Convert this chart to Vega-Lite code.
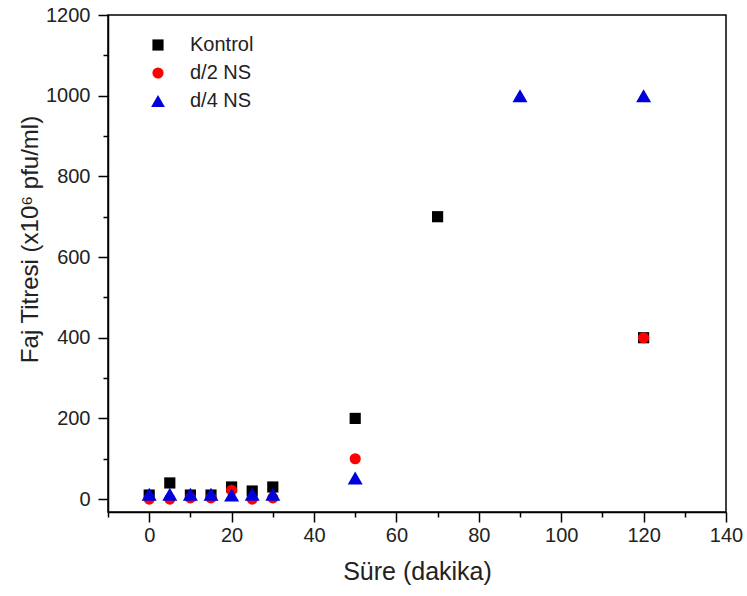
{
  "$schema": "https://vega.github.io/schema/vega-lite/v6.json",
  "autosize": "none",
  "width": 618,
  "height": 497,
  "padding": {"left": 108, "top": 15, "right": 21, "bottom": 84},
  "background": "white",
  "config": {
    "font": "Liberation Sans",
    "view": {"stroke": "black", "strokeWidth": 1.5},
    "axis": {
      "domainColor": "black", "domainWidth": 1.5,
      "tickColor": "black", "tickWidth": 1.5,
      "labelColor": "#222222", "titleColor": "#222222",
      "labelFont": "Liberation Sans", "titleFont": "Liberation Sans",
      "labelFontSize": 20, "titleFontSize": 25, "titleFontWeight": "normal",
      "grid": false
    }
  },
  "data": {
    "values": [
      {"sure": 0, "titre": 10, "grup": "Kontrol"},
      {"sure": 5, "titre": 40, "grup": "Kontrol"},
      {"sure": 10, "titre": 10, "grup": "Kontrol"},
      {"sure": 15, "titre": 10, "grup": "Kontrol"},
      {"sure": 20, "titre": 30, "grup": "Kontrol"},
      {"sure": 25, "titre": 20, "grup": "Kontrol"},
      {"sure": 30, "titre": 30, "grup": "Kontrol"},
      {"sure": 50, "titre": 200, "grup": "Kontrol"},
      {"sure": 70, "titre": 700, "grup": "Kontrol"},
      {"sure": 120, "titre": 400, "grup": "Kontrol"},
      {"sure": 0, "titre": 0, "grup": "d/2 NS"},
      {"sure": 5, "titre": 0, "grup": "d/2 NS"},
      {"sure": 10, "titre": 3, "grup": "d/2 NS"},
      {"sure": 15, "titre": 3, "grup": "d/2 NS"},
      {"sure": 20, "titre": 22, "grup": "d/2 NS"},
      {"sure": 25, "titre": 0, "grup": "d/2 NS"},
      {"sure": 30, "titre": 3, "grup": "d/2 NS"},
      {"sure": 50, "titre": 100, "grup": "d/2 NS"},
      {"sure": 120, "titre": 400, "grup": "d/2 NS"},
      {"sure": 0, "titre": 12, "grup": "d/4 NS"},
      {"sure": 5, "titre": 12, "grup": "d/4 NS"},
      {"sure": 10, "titre": 12, "grup": "d/4 NS"},
      {"sure": 15, "titre": 12, "grup": "d/4 NS"},
      {"sure": 20, "titre": 10, "grup": "d/4 NS"},
      {"sure": 25, "titre": 12, "grup": "d/4 NS"},
      {"sure": 30, "titre": 12, "grup": "d/4 NS"},
      {"sure": 50, "titre": 52, "grup": "d/4 NS"},
      {"sure": 90, "titre": 1000, "grup": "d/4 NS"},
      {"sure": 120, "titre": 1000, "grup": "d/4 NS"}
    ]
  },
  "mark": {"type": "point", "filled": true, "opacity": 1},
  "encoding": {
    "x": {
      "field": "sure", "type": "quantitative",
      "scale": {"domain": [-10, 140], "nice": false, "zero": false},
      "axis": {
        "title": "Süre (dakika)",
        "format": "d",
        "values": [-10, 0, 10, 20, 30, 40, 50, 60, 70, 80, 90, 100, 110, 120, 130, 140],
        "labelExpr": "datum.value % 20 == 0 ? datum.label : ''",
        "tickSize": {"condition": {"test": "datum.value % 20 == 0", "value": 10}, "value": 5},
        "labelPadding": 3,
        "titlePadding": 14,
        "labelFlush": false,
        "labelOverlap": false
      }
    },
    "y": {
      "field": "titre", "type": "quantitative",
      "scale": {"domain": [-32, 1200], "nice": false, "zero": false},
      "axis": {
        "title": "Faj Titresi (x10⁶ pfu/ml)",
        "format": "d",
        "titleFontSize": 24,
        "titleY": 224,
        "values": [0, 100, 200, 300, 400, 500, 600, 700, 800, 900, 1000, 1100, 1200],
        "labelExpr": "datum.value % 200 == 0 ? datum.label : ''",
        "tickSize": {"condition": {"test": "datum.value % 200 == 0", "value": 10}, "value": 5},
        "labelPadding": 8,
        "titlePadding": 3,
        "labelFlush": false,
        "labelOverlap": false
      }
    },
    "color": {
      "field": "grup", "type": "nominal",
      "scale": {"domain": ["Kontrol", "d/2 NS", "d/4 NS"], "range": ["#000000", "#ff0000", "#0000dd"]},
      "legend": {
        "title": null, "orient": "none", "legendX": 40, "legendY": 20,
        "labelFontSize": 20, "labelFont": "Liberation Sans", "labelColor": "#222222",
        "rowPadding": 8, "labelOffset": 22, "symbolOpacity": 1,
        "encode": {"symbols": {"update": {"size": {"signal": "datum.value == 'd/4 NS' ? 190 : 125"}}}}
      }
    },
    "shape": {
      "field": "grup", "type": "nominal",
      "scale": {"domain": ["Kontrol", "d/2 NS", "d/4 NS"], "range": ["square", "circle", "triangle-up"]},
      "legend": {
        "title": null, "orient": "none", "legendX": 40, "legendY": 20,
        "labelFontSize": 20, "labelFont": "Liberation Sans", "labelColor": "#222222",
        "rowPadding": 8, "labelOffset": 22, "symbolOpacity": 1,
        "encode": {"symbols": {"update": {"size": {"signal": "datum.value == 'd/4 NS' ? 190 : 125"}}}}
      }
    },
    "size": {
      "condition": {"test": "datum.grup == 'd/4 NS'", "value": 225},
      "value": 125
    }
  }
}
